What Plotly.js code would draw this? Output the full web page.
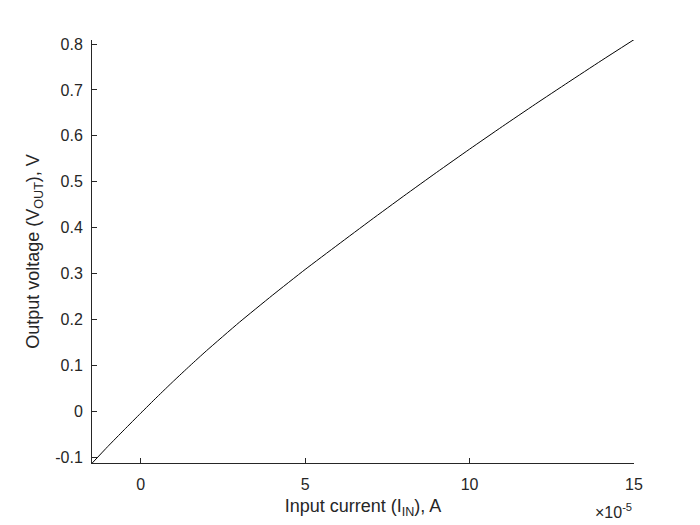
<!DOCTYPE html>
<html>
<head>
<meta charset="utf-8">
<script src="https://cdn.plot.ly/plotly-3.0.1.min.js"></script>
<style>html,body{margin:0;padding:0;background:#fff;}#chart{width:700px;height:525px;}</style>
</head>
<body>
<div id="chart"></div>
<script>
// Input current, in units of 1e-5 A (axis shows ×10^-5)
const inputCurrent = [-1.48, -1.0, -0.5, 0, 0.5, 1, 1.5, 2, 3, 4, 5, 6, 7, 8, 9, 10, 11, 12, 13, 14, 15];
// Output voltage, V
const outputVoltage = [-0.113, -0.0765, -0.040, -0.004, 0.0315, 0.066, 0.0995, 0.132, 0.194, 0.2525, 0.309, 0.363, 0.4165, 0.469, 0.5205, 0.571, 0.6205, 0.669, 0.7165, 0.7635, 0.8095];
const xTicks = [0, 5, 10, 15];
const yTicks = [-0.1, 0, 0.1, 0.2, 0.3, 0.4, 0.5, 0.6, 0.7, 0.8];

const axColor = '#262626';
const fontFam = 'Liberation Sans, Arial, Helvetica, sans-serif';

const trace = {
  x: inputCurrent,
  y: outputVoltage,
  type: 'scatter',
  mode: 'lines',
  line: {color: '#000000', width: 1, shape: 'spline', smoothing: 0.5},
  hoverinfo: 'skip'
};

const layout = {
  width: 700, height: 525,
  margin: {l: 92, r: 66, t: 40, b: 62, pad: 0},
  paper_bgcolor: '#ffffff',
  plot_bgcolor: '#ffffff',
  showlegend: false,
  font: {family: fontFam, color: axColor, size: 16},
  xaxis: {
    range: [-1.48, 15],
    tickvals: xTicks,
    ticktext: xTicks.map(String),
    ticks: 'inside', ticklen: 5, tickwidth: 1, tickcolor: axColor,
    ticklabelstandoff: 7,
    showline: true, linecolor: axColor, linewidth: 1,
    showgrid: false, zeroline: false,
    tickfont: {family: fontFam, size: 16, color: axColor},
    title: {text: 'Input current (I<sub>IN</sub>), A', font: {family: fontFam, size: 18, color: axColor}, standoff: 7},
    automargin: false
  },
  yaxis: {
    range: [-0.1124, 0.8087],
    tickvals: yTicks,
    ticktext: yTicks.map(v => String(v)),
    ticks: 'inside', ticklen: 5, tickwidth: 1, tickcolor: axColor,
    ticklabelstandoff: 5,
    showline: true, linecolor: axColor, linewidth: 1,
    showgrid: false, zeroline: false,
    tickfont: {family: fontFam, size: 16, color: axColor},
    title: {text: 'Output voltage (V<sub>OUT</sub>), V', font: {family: fontFam, size: 18, color: axColor}, standoff: 10},
    automargin: false
  },
  annotations: [{
    xref: 'paper', yref: 'paper',
    x: 1.0, y: -0.113,
    xanchor: 'right', yanchor: 'middle',
    text: '×10<sup>-5</sup>',
    showarrow: false,
    font: {family: fontFam, size: 16, color: axColor}
  }]
};

Plotly.newPlot('chart', [trace], layout, {displayModeBar: false, staticPlot: true});
</script>
</body>
</html>
